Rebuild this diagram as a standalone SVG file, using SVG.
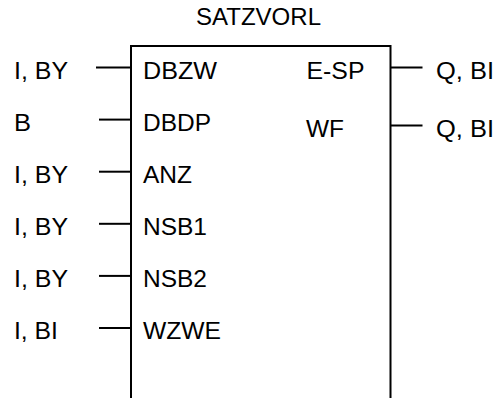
<svg xmlns="http://www.w3.org/2000/svg" width="500" height="398" viewBox="0 0 500 398">
<style>
text{font-family:"Liberation Sans",Arial,sans-serif;font-size:23px;fill:#000}
.ln{stroke:#000;stroke-width:2;fill:none}
</style>
<rect width="500" height="398" fill="#fff"/>
<g id="block">
<text x="196" y="24.5" textLength="125" lengthAdjust="spacingAndGlyphs">SATZVORL</text>
<path class="ln" d="M131,398 V46 H390.5 V398"/>
</g>
<g id="connectors">
<line class="ln" x1="96" y1="67.5" x2="131" y2="67.5"/>
<line class="ln" x1="99" y1="119.6" x2="131" y2="119.6"/>
<line class="ln" x1="99" y1="171.7" x2="131" y2="171.7"/>
<line class="ln" x1="99" y1="223.8" x2="131" y2="223.8"/>
<line class="ln" x1="99" y1="275.9" x2="131" y2="275.9"/>
<line class="ln" x1="99" y1="328" x2="131" y2="328"/>
<line class="ln" x1="390.5" y1="67.5" x2="422.5" y2="67.5"/>
<line class="ln" x1="390.5" y1="125.5" x2="422.5" y2="125.5"/>
</g>
<g id="in-dbzw"><text x="14" y="78.5" textLength="54" lengthAdjust="spacingAndGlyphs">I, BY</text><text x="143" y="78.5" textLength="74" lengthAdjust="spacingAndGlyphs">DBZW</text></g>
<g id="in-dbdp"><text x="14" y="130.5" textLength="17" lengthAdjust="spacingAndGlyphs">B</text><text x="143" y="130.5" textLength="68" lengthAdjust="spacingAndGlyphs">DBDP</text></g>
<g id="in-anz"><text x="14" y="182.5" textLength="54" lengthAdjust="spacingAndGlyphs">I, BY</text><text x="143" y="182.5" textLength="49" lengthAdjust="spacingAndGlyphs">ANZ</text></g>
<g id="in-nsb1"><text x="14" y="234.5" textLength="54" lengthAdjust="spacingAndGlyphs">I, BY</text><text x="143" y="234.5" textLength="64" lengthAdjust="spacingAndGlyphs">NSB1</text></g>
<g id="in-nsb2"><text x="14" y="286.5" textLength="54" lengthAdjust="spacingAndGlyphs">I, BY</text><text x="143" y="286.5" textLength="64" lengthAdjust="spacingAndGlyphs">NSB2</text></g>
<g id="in-wzwe"><text x="14" y="338.5" textLength="44" lengthAdjust="spacingAndGlyphs">I, BI</text><text x="143" y="338.5" textLength="78" lengthAdjust="spacingAndGlyphs">WZWE</text></g>
<g id="out-esp"><text x="306.5" y="78.5" textLength="58" lengthAdjust="spacingAndGlyphs">E-SP</text><text x="436" y="78.5" textLength="58" lengthAdjust="spacingAndGlyphs">Q, BI</text></g>
<g id="out-wf"><text x="306" y="136.5" textLength="38" lengthAdjust="spacingAndGlyphs">WF</text><text x="436" y="136.5" textLength="58" lengthAdjust="spacingAndGlyphs">Q, BI</text></g>
</svg>
